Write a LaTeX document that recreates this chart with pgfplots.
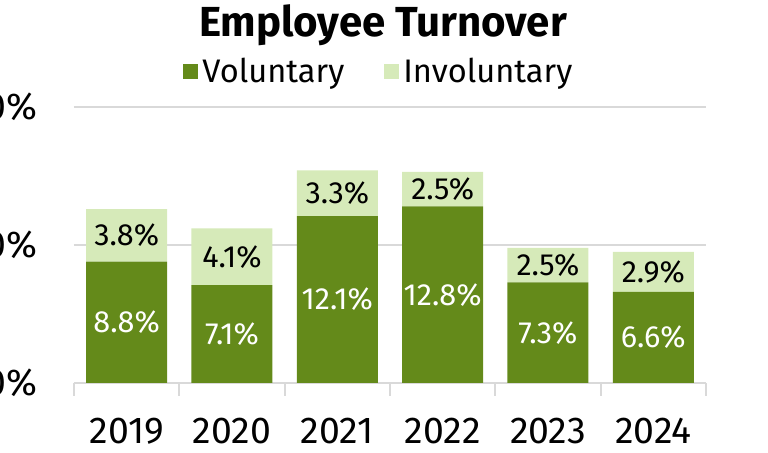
\documentclass[border=0pt]{standalone}
\usepackage{fontspec}
\setmainfont{Fira Sans}
\usepackage{pgfplots}
\pgfplotsset{compat=1.18}

\definecolor{vol}{RGB}{100,138,26}
\definecolor{invol}{RGB}{214,234,185}
\definecolor{gridc}{RGB}{217,217,217}

\begin{document}
\begin{tikzpicture}
\useasboundingbox (0,0) rectangle (384pt,226.5pt);
\clip (0,0) rectangle (384pt,226.5pt);

% title
\node[anchor=base, inner sep=0pt] at (191.5pt,208pt)
  {\fontsize{21}{25}\selectfont\bfseries Employee Turnover};

\begin{axis}[
    at={(37pt,35pt)}, anchor=south west,
    scale only axis,
    width=316pt, height=138pt,
    ybar stacked,
    bar width=40.5pt,
    xmin=-0.5, xmax=5.5,
    ymin=0, ymax=20,
    xtick={0,1,2,3,4,5},
    xticklabels={2019,2020,2021,2022,2023,2024},
    minor xtick={-0.5,0.5,1.5,2.5,3.5,4.5,5.5},
    ytick={0,10,20},
    yticklabels={0\%,10\%,20\%},
    major tick length=0pt,
    minor tick length=6.5pt,
    tick align=outside,
    minor tick style={gridc, line width=0.9pt},
    axis x line*=bottom,
    axis y line*=left,
    x axis line style={gridc, line width=0.9pt},
    y axis line style={draw=none},
    ymajorgrids,
    grid style={gridc, line width=0.9pt},
    /pgf/number format/assume math mode=true,
    tick label style={font=\fontsize{18.7}{21}\selectfont},
    xticklabel style={anchor=base, inner sep=0pt, yshift=-30.5pt},
    yticklabel style={anchor=east, inner sep=0pt, xshift=-18pt},
    point meta=rawy,
    nodes near coords={\pgfmathprintnumber[fixed,fixed zerofill,precision=1]{\pgfplotspointmeta}\%},
    every node near coord/.append style={anchor=center, font=\fontsize{15.3}{17}\selectfont},
    legend style={at={(axis description cs:0.484,1.127)}, anchor=center,
        draw=none, fill=none, font=\fontsize{16.3}{18}\selectfont,
        legend columns=2,
        /tikz/every even column/.append style={column sep=18pt},
        legend cell align=left, inner sep=0pt},
    legend image code/.code={\fill[#1] (0pt,-3.75pt) rectangle (7.5pt,3.75pt);},
]
\addplot[fill=vol, draw=none, nodes near coords style={text=white}] coordinates {
    (0,8.8) (1,7.1) (2,12.1) (3,12.8) (4,7.3) (5,6.6)
};
\addplot[fill=invol, draw=none, nodes near coords style={text=black}] coordinates {
    (0,3.8) (1,4.1) (2,3.3) (3,2.5) (4,2.5) (5,2.9)
};
\legend{Voluntary,Involuntary}
\end{axis}
\end{tikzpicture}
\end{document}
